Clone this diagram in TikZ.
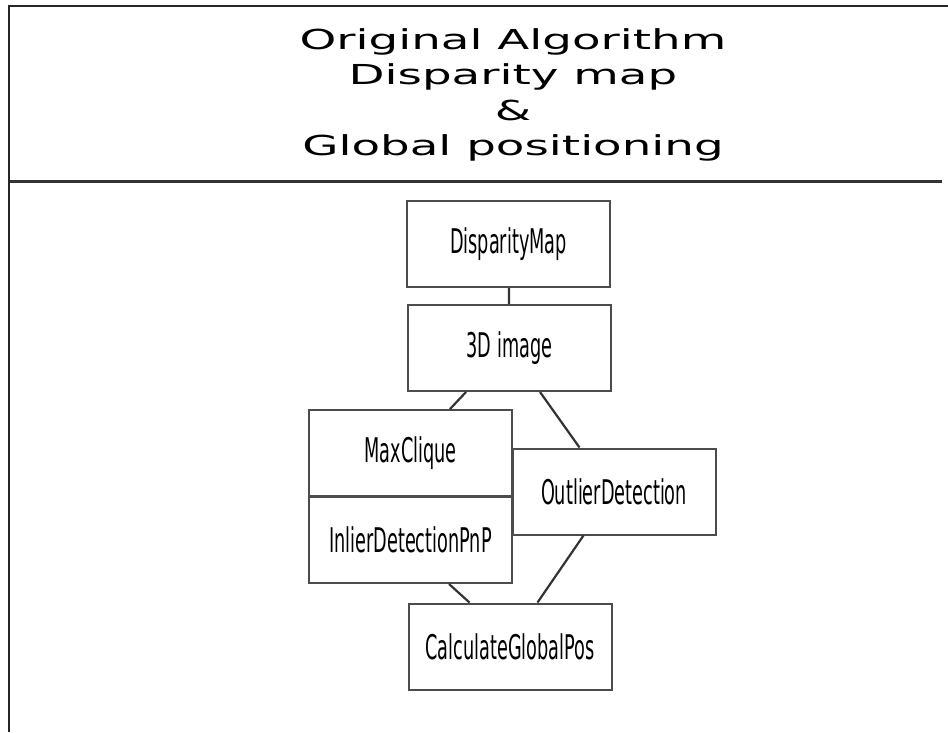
\documentclass[tikz,border=0pt]{standalone}
\usepackage{fontspec}
\setmainfont{DejaVu Sans}
\usepackage{graphicx}
\usetikzlibrary{positioning}
\newcommand{\squeeze}[1]{\scalebox{0.52}[1]{#1}}

\begin{document}
\begin{tikzpicture}[
    x=1pt, y=-1pt,
    block/.style={draw=black!70, line width=2pt, minimum width=203pt,
        minimum height=86pt, inner sep=0pt, font=\fontsize{34}{40}\selectfont},
    link/.style={draw=black!80, line width=2.2pt},
    title/.style={align=center, inner sep=0pt, xscale=1.7,
        font=\fontsize{27.5}{35.5}\selectfont}
]
\useasboundingbox (0,0) rectangle (948,732);

% frame
\draw[line width=2.6pt, black!85] (948,6) -- (9,6) -- (9,732);
\draw[line width=3pt, black!80] (10,181) -- (942,181);

\node[title] (head) at (513,95) {Original Algorithm\\Disparity map\\\&\\Global positioning};

% blocks
\node[block] (dmap) at (508.5,244) {\squeeze{DisparityMap}};
\node[block] (img3d) at (509.5,348) {\squeeze{3D image}};
\node[block] (maxclq) at (410.5,453) {\squeeze{MaxClique}};
\node[block] (inlier) at (410.5,540) {\squeeze{InlierDetectionPnP}};
\node[block] (outlier) at (614,491.5) {\squeeze{OutlierDetection}};
\node[block] (calc) at (510,646.5) {\squeeze{CalculateGlobalPos}};

% connectors
\draw[link] (dmap) -- (img3d);
\draw[link] ([xshift=59pt]img3d.south west) -- ([xshift=142pt]maxclq.north west);
\draw[link] ([xshift=133pt]img3d.south west) -- ([xshift=68pt]outlier.north west);
\draw[link] ([xshift=141pt]inlier.south west) -- ([xshift=62pt]calc.north west);
\draw[link] ([xshift=72pt]outlier.south west) -- ([xshift=130pt]calc.north west);

\end{tikzpicture}
\end{document}
